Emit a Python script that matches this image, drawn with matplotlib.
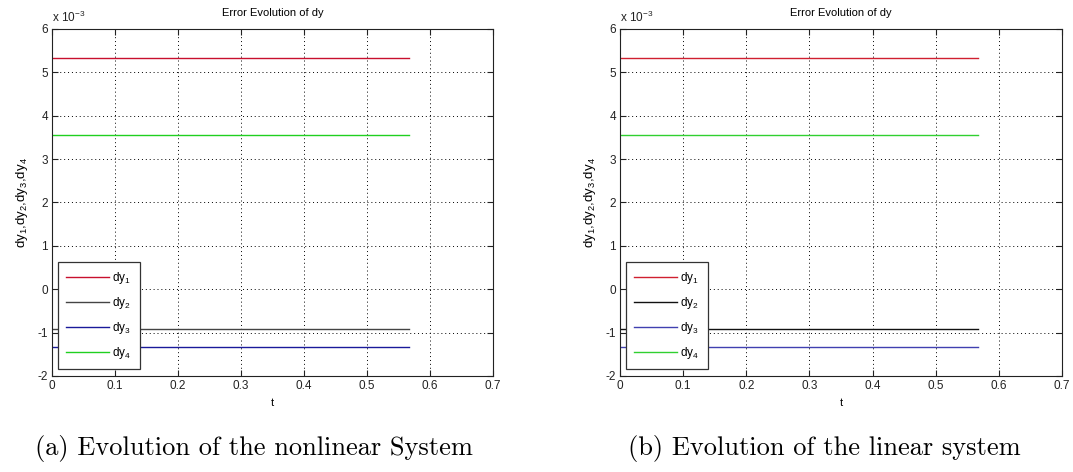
import numpy as np
import matplotlib
matplotlib.use('Agg')
import matplotlib.pyplot as plt

# time span of the simulation and the (constant) error values, in units of 1e-3
t = [0.0, 0.567]
dy1 = [5.33, 5.33]
dy2 = [-0.92, -0.92]
dy3 = [-1.33, -1.33]
dy4 = [3.56, 3.56]

series = [dy1, dy2, dy3, dy4]
labels = [r'dy$_1$', r'dy$_2$', r'dy$_3$', r'dy$_4$']
captions = ['(a) Evolution of the nonlinear System', '(b) Evolution of the linear system']

xticks = [0, 0.1, 0.2, 0.3, 0.4, 0.5, 0.6, 0.7]
yticks = [-2, -1, 0, 1, 2, 3, 4, 5, 6]

plt.rcParams['font.family'] = ['Liberation Sans', 'DejaVu Sans']
plt.rcParams['mathtext.fontset'] = 'custom'
plt.rcParams['mathtext.rm'] = 'Liberation Sans'
plt.rcParams['mathtext.it'] = 'Liberation Sans'


def draw_panel(fig, rect, colors, caption, cap_x):
    ax = fig.add_axes(rect)
    for vals, c, lab in zip(series, colors, labels):
        ax.plot(t, vals, color=c, lw=1.0, label=lab)

    ax.set_xlim(0, 0.7)
    ax.set_ylim(-2, 6)
    ax.set_xticks(xticks)
    ax.set_xticklabels(['0', '0.1', '0.2', '0.3', '0.4', '0.5', '0.6', '0.7'])
    ax.set_yticks(yticks)
    ax.set_yticklabels([str(v) for v in yticks])
    ax.tick_params(direction='in', length=4, width=0.8, labelsize=8.5,
                   colors='#222222', top=True, right=True, pad=3)
    ax.grid(True, linestyle=(0, (1, 3)), color='black', lw=0.7)
    for s in ax.spines.values():
        s.set_linewidth(0.8)
        s.set_color('#222222')

    ax.set_title('Error Evolution of dy', fontsize=8, pad=9)
    ax.set_xlabel('t', fontsize=8, labelpad=4)
    ax.set_ylabel(r'dy$_1$,dy$_2$,dy$_3$,dy$_4$', fontsize=9.5, labelpad=5)
    ax.text(0.0, 1.012, r'x 10$^{-3}$', transform=ax.transAxes,
            fontsize=8.5, color='#222222', ha='left', va='bottom')

    leg = ax.legend(loc='lower left', bbox_to_anchor=(0.0136, 0.02), fontsize=8.5,
                    handlelength=3.6, labelspacing=0.75, borderpad=0.7,
                    borderaxespad=0, handletextpad=0.3, fancybox=False,
                    framealpha=1)
    leg.get_frame().set_edgecolor('#333333')
    leg.get_frame().set_linewidth(0.9)

    fig.text(cap_x, 0.036, caption, ha='center', va='baseline',
             fontname='cmr10', fontsize=19)
    return ax


fig = plt.figure(figsize=(10.73, 4.72), dpi=100)

draw_panel(fig, [0.0485, 0.2034, 0.411, 0.7352],
           ['#c8102e', '#444444', '#1a1a9a', '#20d020'], captions[0], 0.2367)
draw_panel(fig, [0.5778, 0.2034, 0.4119, 0.7352],
           ['#d02030', '#111111', '#4040b0', '#30d030'], captions[1], 0.768)

fig.savefig('out.png', dpi=100)
